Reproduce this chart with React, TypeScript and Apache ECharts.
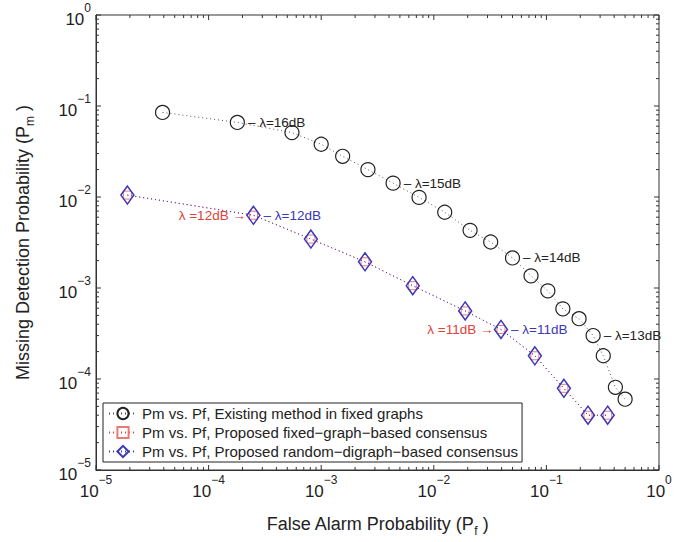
import React, { useEffect, useRef } from "react";
import * as echarts from "echarts";

const pfExisting = [3.9e-5, 1.8e-4, 5.5e-4, 1.0e-3, 1.55e-3, 2.6e-3, 4.35e-3, 7.4e-3, 1.25e-2, 2.1e-2, 3.2e-2, 5.0e-2, 7.3e-2, 0.103, 0.14, 0.195, 0.26, 0.32, 0.41, 0.5];
const pmExisting = [0.085, 0.066, 0.051, 0.038, 0.028, 0.02, 0.0142, 0.0099, 0.0068, 0.0043, 0.0032, 0.00214, 0.00136, 9.3e-4, 5.9e-4, 4.6e-4, 3.0e-4, 1.8e-4, 8.1e-5, 6.0e-5];
const pfProposed = [1.9e-5, 2.5e-4, 8.1e-4, 2.45e-3, 6.5e-3, 0.019, 0.0395, 0.079, 0.143, 0.234, 0.35];
const pmFixedGraph = [0.0105, 0.0063, 0.00345, 0.00194, 0.00106, 5.6e-4, 3.5e-4, 1.8e-4, 7.9e-5, 4.0e-5, 4.0e-5];
const pmRandomDigraph = [0.0105, 0.0063, 0.00345, 0.00194, 0.00106, 5.6e-4, 3.5e-4, 1.8e-4, 7.9e-5, 4.0e-5, 4.0e-5];

const seriesNames = [
  "Pm vs. Pf, Existing method in fixed graphs",
  "Pm vs. Pf, Proposed fixed\u2212graph\u2212based consensus",
  "Pm vs. Pf, Proposed random\u2212digraph\u2212based consensus",
];

// annotations: [index, text]
const existingLabels: [number, string][] = [
  [1, "\u2013 \u03bb=16dB"],
  [6, "\u2013 \u03bb=15dB"],
  [11, "\u2013 \u03bb=14dB"],
  [16, "\u2013 \u03bb=13dB"],
];
const fixedLabels: [number, string][] = [
  [1, "\u03bb =12dB \u2192"],
  [6, "\u03bb =11dB \u2192"],
];
const randomLabels: [number, string][] = [
  [1, "\u2013 \u03bb=12dB"],
  [6, "\u2013 \u03bb=11dB"],
];

const decadeExps = [-5, -4, -3, -2, -1, 0];
const minorMults = [2, 3, 4, 5, 6, 7, 8, 9];

const FONT = "'Liberation Sans', Arial, Helvetica, sans-serif";
const BLACK = "#222";
const RED = "#e3403a";
const BLUE = "#3a36b8";

export default function App() {
  const ref = useRef<HTMLDivElement>(null);
  useEffect(() => {
    if (!ref.current) return;
    const chart = echarts.init(ref.current, undefined, { renderer: "svg" });

    const tickVals: [number, number][] = [];
    decadeExps.forEach((e) => {
      tickVals.push([Math.pow(10, e), 5]);
      if (e < 0) minorMults.forEach((m) => tickVals.push([m * Math.pow(10, e), 3]));
    });

    const mkData = (xs: number[], ys: number[], labels: [number, string][], pos: string, color: string) =>
      xs.map((x, i) => {
        const lab = labels.find((l) => l[0] === i);
        const item: any = { value: [x, ys[i]] };
        if (lab) {
          item.label = {
            show: true,
            position: pos,
            distance: 3,
            formatter: lab[1],
            color,
            fontSize: 13.5,
            fontFamily: FONT,
          };
        }
        return item;
      });

    const supFmt = (v: number) => {
      const e = Math.round(Math.log10(v));
      const s = e < 0 ? "\u2212" + Math.abs(e) : String(e);
      return `{b|10}{s|${s}}`;
    };
    const labelRich = {
      b: { fontSize: 17, lineHeight: 26, verticalAlign: "bottom", color: BLACK, fontFamily: FONT },
      s: { fontSize: 12, lineHeight: 14, verticalAlign: "top", color: BLACK, fontFamily: FONT },
    };
    const nameRich = {
      a: { fontSize: 18, lineHeight: 22, verticalAlign: "top", color: BLACK, fontFamily: FONT },
      sub: { fontSize: 12, lineHeight: 11, verticalAlign: "bottom", color: BLACK, fontFamily: FONT },
    };

    const option: any = {
      animation: false,
      backgroundColor: "#fff",
      textStyle: { fontFamily: FONT },
      grid: { left: 96, right: 29, top: 15, bottom: 70, show: true, borderColor: "#333", borderWidth: 1 },
      xAxis: {
        type: "log",
        logBase: 10,
        min: 1e-5,
        max: 1,
        axisLine: { show: true, lineStyle: { color: "#333" } },
        axisTick: { show: false },
        splitLine: { show: false },
        minorTick: { show: false },
        axisLabel: { formatter: supFmt, rich: labelRich, margin: 4, fontSize: 17, color: BLACK, fontFamily: FONT },
        name: "{a|False Alarm Probability (P}{sub|f}{a| )}",
        nameLocation: "middle",
        nameGap: 45,
        nameTextStyle: { rich: nameRich },
      },
      yAxis: {
        type: "log",
        logBase: 10,
        min: 1e-5,
        max: 1,
        axisLine: { show: true, lineStyle: { color: "#333" } },
        axisTick: { show: false },
        splitLine: { show: false },
        minorTick: { show: false },
        axisLabel: { formatter: supFmt, rich: labelRich, margin: 5, fontSize: 17, color: BLACK, fontFamily: FONT },
        name: "{a|Missing Detection Probability (P}{sub|m}{a| )}",
        nameLocation: "middle",
        nameRotate: 90,
        nameGap: 60,
        nameTextStyle: { rich: nameRich },
      },
      legend: {
        orient: "vertical",
        left: 103,
        top: 403,
        data: seriesNames,
        borderColor: "#222",
        borderWidth: 1,
        borderRadius: 0,
        backgroundColor: "#fff",
        padding: [3, 4, 3, 5],
        itemGap: 4,
        itemWidth: 28,
        itemHeight: 14,
        textStyle: { fontSize: 15, color: BLACK, fontFamily: FONT },
      },
      series: [
        {
          name: seriesNames[0],
          type: "line",
          data: mkData(pfExisting, pmExisting, existingLabels, "right", BLACK),
          symbol: "circle",
          symbolSize: 14,
          itemStyle: { color: "rgba(0,0,0,0)", borderColor: "#222", borderWidth: 1.2 },
          lineStyle: { color: "#555", width: 1, type: [1, 3] },
          z: 3,
        },
        {
          name: seriesNames[1],
          type: "line",
          data: mkData(pfProposed, pmFixedGraph, fixedLabels, "left", RED),
          symbol: "rect",
          symbolSize: 8,
          itemStyle: { color: "rgba(0,0,0,0)", borderColor: "#ec7a74", borderWidth: 1 },
          lineStyle: { color: RED, width: 1, type: [1, 3] },
          z: 3,
        },
        {
          name: seriesNames[2],
          type: "line",
          data: mkData(pfProposed, pmRandomDigraph, randomLabels, "right", BLUE),
          symbol: "diamond",
          symbolSize: [13, 18],
          itemStyle: { color: "rgba(0,0,0,0)", borderColor: BLUE, borderWidth: 1.5 },
          lineStyle: { color: BLUE, width: 1, type: [1, 3] },
          z: 4,
        },
        {
          type: "custom",
          silent: true,
          clip: false,
          z: 5,
          data: tickVals.map((t) => [t[0], 1e-5, t[1]]),
          encode: { x: 0, y: 1 },
          renderItem: (params: any, api: any) => {
            const v = api.value(0);
            const len = api.value(2);
            const b = api.coord([v, 1e-5]);
            const t = api.coord([v, 1]);
            const st = { stroke: "#333", lineWidth: 1 };
            return {
              type: "group",
              children: [
                { type: "line", shape: { x1: b[0], y1: b[1], x2: b[0], y2: b[1] - len }, style: st },
                { type: "line", shape: { x1: t[0], y1: t[1], x2: t[0], y2: t[1] + len }, style: st },
              ],
            };
          },
        },
        {
          type: "custom",
          silent: true,
          clip: false,
          z: 5,
          data: tickVals.map((t) => [1e-5, t[0], t[1]]),
          encode: { x: 0, y: 1 },
          renderItem: (params: any, api: any) => {
            const v = api.value(1);
            const len = api.value(2);
            const l = api.coord([1e-5, v]);
            const r = api.coord([1, v]);
            const st = { stroke: "#333", lineWidth: 1 };
            return {
              type: "group",
              children: [
                { type: "line", shape: { x1: l[0], y1: l[1], x2: l[0] + len, y2: l[1] }, style: st },
                { type: "line", shape: { x1: r[0], y1: r[1], x2: r[0] - len, y2: r[1] }, style: st },
              ],
            };
          },
        },
      ],
    };
    chart.setOption(option);
    return () => chart.dispose();
  }, []);
  return (
    <div
      ref={ref}
      style={{ position: "fixed", left: 0, top: 0, width: 688, height: 542, background: "#fff" }}
    />
  );
}
